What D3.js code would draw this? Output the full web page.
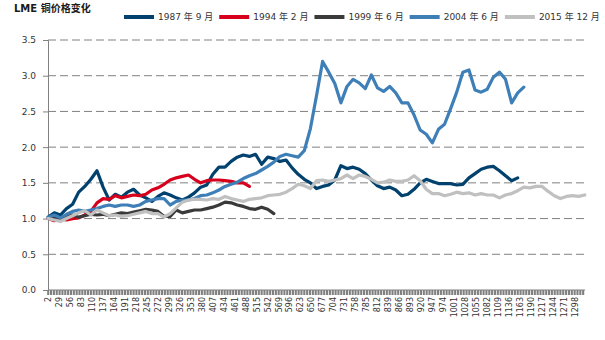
<!DOCTYPE html>
<html><head><meta charset="utf-8">
<script src="https://cdn.jsdelivr.net/npm/d3@7"></script>
<style>
body{margin:0;background:#fff;}
text{font-family:"DejaVu Sans","Noto Sans CJK SC",sans-serif;}
</style></head>
<body><svg id="c" width="605" height="340"></svg>
<script>
const title = "LME 铜价格变化";
const seriesNames = ["1987 年 9 月","1994 年 2 月","1999 年 6 月","2004 年 6 月","2015 年 12 月"];
const seriesColors = ["#00416e","#d7001c","#3a3a3a","#3f7fb8","#c0c0c0"];
const firstCat = 2, catStep = 15, lastCat = 1322;
const xTickLabels = [2,29,56,83,110,137,164,191,218,245,272,299,326,353,380,407,434,461,488,515,542,569,596,623,650,677,704,731,758,785,812,839,866,893,920,947,974,1001,1028,1055,1082,1109,1136,1163,1190,1217,1244,1271,1298];
const yTicks = [0,0.5,1,1.5,2,2.5,3,3.5];

const s1987 = [1.02,1.08,1.05,1.14,1.20,1.37,1.45,1.55,1.67,1.44,1.26,1.34,1.30,1.37,1.41,1.33,1.29,1.24,1.31,1.36,
 1.33,1.29,1.26,1.30,1.36,1.44,1.47,1.62,1.72,1.72,1.80,1.86,1.89,1.87,1.90,1.76,1.86,1.84,1.80,1.82,
 1.71,1.62,1.55,1.50,1.42,1.45,1.47,1.54,1.74,1.70,1.72,1.69,1.63,1.54,1.46,1.42,1.44,1.40,1.32,1.34,
 1.41,1.50,1.55,1.52,1.49,1.49,1.49,1.47,1.48,1.57,1.63,1.69,1.72,1.73,1.67,1.60,1.53,1.57];
const s1994 = [1.00,0.97,1.00,0.98,1.00,1.01,1.05,1.10,1.22,1.28,1.27,1.32,1.29,1.31,1.33,1.32,1.34,1.40,1.43,1.48,
 1.54,1.57,1.59,1.61,1.55,1.50,1.53,1.54,1.54,1.53,1.52,1.50,1.50,1.45];
const s1999 = [1.00,1.02,1.00,1.03,1.05,1.02,1.04,1.06,1.05,1.06,1.04,1.06,1.08,1.07,1.09,1.11,1.13,1.12,1.10,1.03,
 1.03,1.12,1.08,1.10,1.12,1.12,1.14,1.16,1.19,1.23,1.22,1.19,1.17,1.14,1.13,1.16,1.13,1.07];
const s2004 = [1.02,1.05,1.01,1.06,1.10,1.12,1.10,1.12,1.14,1.17,1.19,1.17,1.19,1.19,1.17,1.19,1.24,1.26,1.28,1.28,
 1.19,1.24,1.26,1.26,1.28,1.32,1.33,1.36,1.40,1.45,1.48,1.51,1.56,1.60,1.63,1.68,1.73,1.79,1.87,1.90,
 1.88,1.86,1.95,2.26,2.72,3.20,3.05,2.89,2.62,2.85,2.95,2.90,2.82,3.01,2.83,2.78,2.85,2.76,2.62,2.62,
 2.45,2.24,2.18,2.06,2.25,2.32,2.54,2.77,3.05,3.08,2.80,2.77,2.81,2.98,3.05,2.95,2.62,2.76,2.84];
const s2015 = [1.00,0.98,0.96,1.00,1.04,1.08,1.11,1.05,1.12,1.08,1.04,1.05,1.03,1.04,1.06,1.08,1.10,1.07,1.07,1.02,
 1.07,1.15,1.23,1.26,1.27,1.27,1.26,1.28,1.27,1.31,1.28,1.26,1.24,1.27,1.28,1.29,1.32,1.33,1.34,1.37,
 1.42,1.48,1.46,1.42,1.53,1.54,1.52,1.54,1.56,1.61,1.56,1.61,1.59,1.55,1.50,1.51,1.54,1.52,1.52,1.54,
 1.60,1.53,1.41,1.35,1.35,1.32,1.34,1.37,1.35,1.36,1.33,1.35,1.33,1.33,1.29,1.33,1.35,1.39,1.44,1.43,
 1.45,1.45,1.38,1.32,1.28,1.31,1.32,1.31,1.33];
const seriesValues = [s1987,s1994,s1999,s2004,s2015];

const svg = d3.select("#c");
const x = d3.scaleLinear().domain([firstCat-0.5, lastCat+0.5]).range([48,585]);
const y = d3.scaleLinear().domain([0,3.5]).range([290,40]);
const axisColor = "#808080";

svg.append("text").attr("x",14).attr("y",12).attr("font-size",10).attr("font-weight","bold")
  .attr("fill","#1a1a1a").text(title);

svg.append("g").selectAll("line").data(yTicks.filter(d=>d>0)).join("line")
  .attr("x1",48).attr("x2",585).attr("y1",d=>y(d)).attr("y2",d=>y(d))
  .attr("stroke",axisColor).attr("stroke-width",1).attr("stroke-dasharray","8,4");

const yAxis = d3.axisLeft(y).tickValues(yTicks).tickFormat(d3.format(".1f")).tickSize(5).tickPadding(7);
const gy = svg.append("g").attr("transform","translate(48,0)").call(yAxis);
gy.select(".domain").attr("stroke",axisColor);
gy.selectAll(".tick line").attr("stroke",axisColor);
gy.selectAll(".tick text").attr("font-size",9).attr("fill","#333")
  .style("font-family","'DejaVu Sans',sans-serif");

svg.append("line").attr("x1",48).attr("x2",585).attr("y1",y(0)).attr("y2",y(0)).attr("stroke",axisColor);
const minorTicks = d3.range(firstCat, lastCat+1, 7);
svg.append("g").selectAll("line").data(minorTicks).join("line")
  .attr("x1",d=>x(d)).attr("x2",d=>x(d)).attr("y1",290).attr("y2",295)
  .attr("stroke",axisColor).attr("stroke-width",2.1);
svg.append("g").selectAll("text").data(xTickLabels).join("text")
  .attr("transform",d=>`translate(${x(d)},297) rotate(-90)`)
  .attr("text-anchor","end").attr("dy","0.35em")
  .attr("font-size",8).attr("fill","#333").text(d=>d);

const line = d3.line().x((d,i)=>x(firstCat+i*catStep)).y(d=>y(d)).curve(d3.curveLinear);
seriesValues.forEach((vals,k)=>{
  svg.append("path").datum(vals).attr("d",line).attr("fill","none")
    .attr("stroke",seriesColors[k]).attr("stroke-width",3.2)
    .attr("stroke-linejoin","round").attr("stroke-linecap","round");
});

let lx = 124;
seriesNames.forEach((n,k)=>{
  svg.append("line").attr("x1",lx).attr("x2",lx+30).attr("y1",17).attr("y2",17)
    .attr("stroke",seriesColors[k]).attr("stroke-width",4);
  const t = svg.append("text").attr("x",lx+34).attr("y",17).attr("dy","0.35em")
    .attr("font-size",9).attr("fill","#333").text(n);
  lx += 34 + t.node().getComputedTextLength() + 6;
});
</script></body></html>
